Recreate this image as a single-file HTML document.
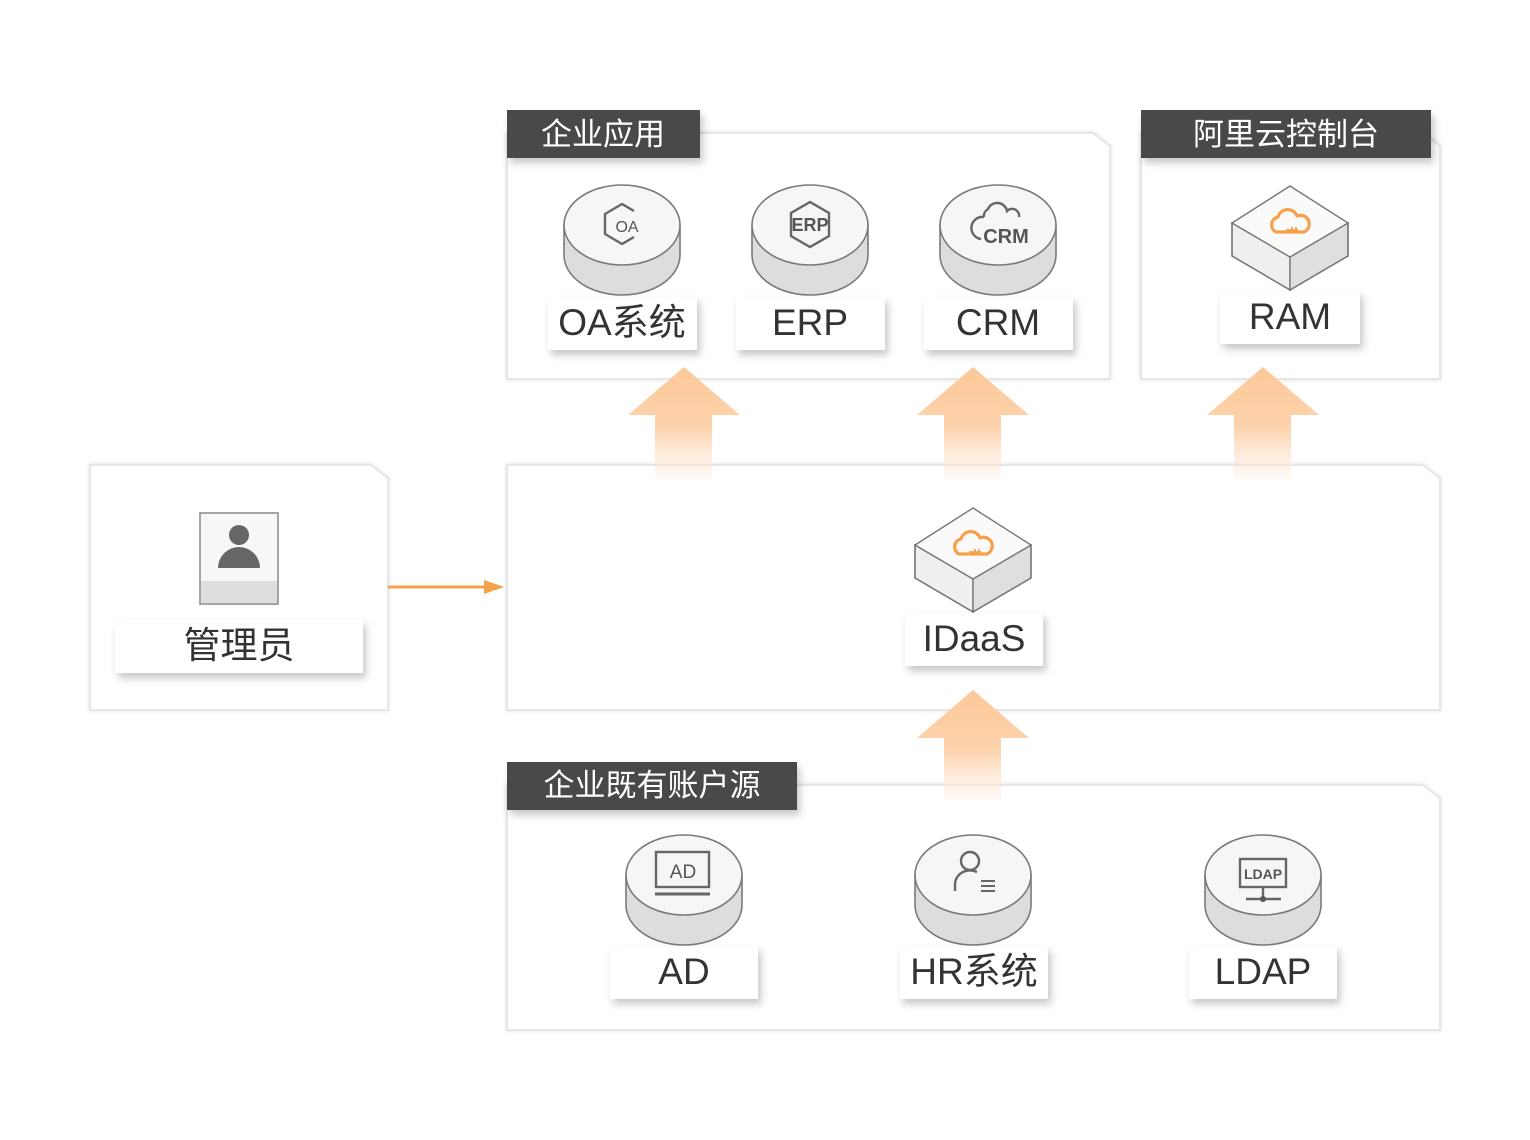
<!DOCTYPE html>
<html><head><meta charset="utf-8"><style>
html,body{margin:0;padding:0;background:#fff;}
svg{display:block;}
text{font-family:"Liberation Sans","Noto Sans CJK SC",sans-serif;}
</style></head><body>
<svg width="1530" height="1140" viewBox="0 0 1530 1140" xmlns="http://www.w3.org/2000/svg">
<defs>
<filter id="sh" x="-20%" y="-20%" width="140%" height="160%"><feDropShadow dx="3" dy="5" stdDeviation="4" flood-color="#000" flood-opacity="0.22"/></filter>
<filter id="bs" x="-5%" y="-5%" width="110%" height="110%"><feDropShadow dx="0" dy="0" stdDeviation="2" flood-color="#000" flood-opacity="0.12"/></filter>
<linearGradient id="ag" x1="0" y1="0" x2="0" y2="1"><stop offset="0" stop-color="#fdc898"/><stop offset="0.55" stop-color="#fdd3ad"/><stop offset="1" stop-color="#fdebdc" stop-opacity="0.3"/></linearGradient>
<g id="cloud"><path d="M-14,8 a8,8 0 0 1 2,-15 a10,10 0 0 1 19,-1 a8,8 0 0 1 7,16 z" fill="none" stroke="#f7a04a" stroke-width="3.2" stroke-linejoin="round"/><path d="M-4,6 h12 M2,3 v3 M6,3 v3" stroke="#f7a04a" stroke-width="1.8"/></g>
</defs>

<!-- containers -->
<g fill="#fff" stroke="#e6e6e6" stroke-width="2" filter="url(#bs)">
<path d="M507,133 H1093 L1110,146 V379 H507 Z"/>
<path d="M1141,133 H1423 L1440,146 V379 H1141 Z"/>
<path d="M90,465 H371 L388,478 V710 H90 Z"/>
<path d="M507,465 H1423 L1440,478 V710 H507 Z"/>
<path d="M507,785 H1423 L1440,798 V1030 H507 Z"/>
</g>

<!-- arrows -->
<g fill="url(#ag)">
<path d="M684,367 L740,415 H712 V478 H655 V415 H628 Z"/>
<path d="M973,367 L1029,415 H1001 V478 H944 V415 H917 Z"/>
<path d="M1263,367 L1319,415 H1291 V478 H1234 V415 H1207 Z"/>
<path d="M973,690 L1029,738 H1001 V800 H944 V738 H917 Z"/>
</g>

<!-- title bars -->
<g filter="url(#sh)" fill="#4a4a4a">
<rect x="507" y="110" width="193" height="48"/>
<rect x="1141" y="110" width="290" height="48"/>
<rect x="507" y="762" width="290" height="48"/>
</g>
<g fill="#fff" font-size="31" text-anchor="middle">
<text x="603" y="145">企业应用</text>
<text x="1286" y="145">阿里云控制台</text>
<text x="652" y="796">企业既有账户源</text>
</g>

<!-- cylinders -->
<g stroke="#7a7a7a" stroke-width="1.6">
<g transform="translate(622,185)"><path d="M-58,40 V70 A58,40 0 0 0 58,70 V40 Z" fill="#dcdddc"/><ellipse cx="0" cy="40" rx="58" ry="40" fill="#f6f6f6"/></g>
<g transform="translate(810,185)"><path d="M-58,40 V70 A58,40 0 0 0 58,70 V40 Z" fill="#dcdddc"/><ellipse cx="0" cy="40" rx="58" ry="40" fill="#f6f6f6"/></g>
<g transform="translate(998,185)"><path d="M-58,40 V70 A58,40 0 0 0 58,70 V40 Z" fill="#dcdddc"/><ellipse cx="0" cy="40" rx="58" ry="40" fill="#f6f6f6"/></g>
<g transform="translate(684,835)"><path d="M-58,40 V70 A58,40 0 0 0 58,70 V40 Z" fill="#dcdddc"/><ellipse cx="0" cy="40" rx="58" ry="40" fill="#f6f6f6"/></g>
<g transform="translate(973,835)"><path d="M-58,40 V70 A58,40 0 0 0 58,70 V40 Z" fill="#dcdddc"/><ellipse cx="0" cy="40" rx="58" ry="40" fill="#f6f6f6"/></g>
<g transform="translate(1263,835)"><path d="M-58,40 V70 A58,40 0 0 0 58,70 V40 Z" fill="#dcdddc"/><ellipse cx="0" cy="40" rx="58" ry="40" fill="#f6f6f6"/></g>
</g>

<!-- cylinder icons -->
<g fill="none" stroke="#666" stroke-width="2.4">
<path d="M634,211 L622,204 L605,214 V234 L622,244 L634,237"/>
<path d="M810,202 L829,213 V236 L810,247 L791,236 V213 Z"/>
<path d="M984,217 a8,8 0 0 1 4,-8 a10,10 0 0 1 19,2 a7,7 0 0 1 12,6" />
<path d="M984,217 a9,9 0 0 0 -3,22"/>
<rect x="656" y="852" width="53" height="35"/>
<path d="M655,894 H710" stroke-width="3"/>
<circle cx="970" cy="861" r="9"/>
<path d="M955,891 V884 a15,14 0 0 1 22,-12"/>
<path d="M981,881 H995 M981,886 H995 M981,891 H995" stroke-width="2"/>
<rect x="1240" y="859" width="46" height="28"/>
<path d="M1263,887 V899 M1246,899 H1281"/>
</g>
<g fill="#555" font-weight="bold" text-anchor="middle">
<text x="627" y="232" font-size="16" font-weight="normal">OA</text>
<text x="810" y="231" font-size="18">ERP</text>
<text x="1006" y="243" font-size="20">CRM</text>
<text x="683" y="878" font-size="19" font-weight="normal">AD</text>
<text x="1263" y="879" font-size="14">LDAP</text>
</g>
<circle cx="1263" cy="899" r="3" fill="#555"/>

<!-- cubes -->
<g stroke="#777" stroke-width="1.4">
<g transform="translate(1290,186)"><path d="M-58,37 L0,71 V104 L-58,70 Z" fill="#efefee"/><path d="M58,37 L0,71 V104 L58,70 Z" fill="#dedfde"/><path d="M0,0 L58,37 L0,71 L-58,37 Z" fill="#fafafa"/><path d="M-58,37 V70 L0,104 L58,70 V37" fill="none"/></g>
<g transform="translate(973,508)"><path d="M-58,37 L0,71 V104 L-58,70 Z" fill="#efefee"/><path d="M58,37 L0,71 V104 L58,70 Z" fill="#dedfde"/><path d="M0,0 L58,37 L0,71 L-58,37 Z" fill="#fafafa"/><path d="M-58,37 V70 L0,104 L58,70 V37" fill="none"/></g>
</g>
<use href="#cloud" x="1290" y="224"/>
<use href="#cloud" x="973" y="546"/>

<!-- admin icon -->
<rect x="200" y="513" width="78" height="91" fill="#f7f7f7" stroke="#888" stroke-width="1.5"/>
<rect x="201" y="581" width="76" height="22" fill="#dddedd"/>
<circle cx="239" cy="535" r="10" fill="#666"/>
<path d="M218,568 a21,21 0 0 1 42,0 Z" fill="#666"/>

<!-- connector -->
<path d="M388,587 H488" stroke="#f7a04a" stroke-width="3"/>
<path d="M484,580 L504,587 L484,594 Z" fill="#f7a04a"/>

<!-- labels -->
<g filter="url(#sh)" fill="#fff">
<rect x="548" y="297" width="149" height="53"/>
<rect x="736" y="297" width="149" height="53"/>
<rect x="924" y="297" width="149" height="53"/>
<rect x="1220" y="291" width="140" height="53"/>
<rect x="115" y="620" width="248" height="53"/>
<rect x="905" y="613" width="138" height="53"/>
<rect x="610" y="946" width="148" height="53"/>
<rect x="900" y="946" width="148" height="53"/>
<rect x="1189" y="946" width="148" height="53"/>
</g>
<g fill="#333" font-size="37" text-anchor="middle">
<text x="622" y="335">OA系统</text>
<text x="810" y="335">ERP</text>
<text x="998" y="335">CRM</text>
<text x="1290" y="329">RAM</text>
<text x="239" y="658">管理员</text>
<text x="974" y="651">IDaaS</text>
<text x="684" y="984">AD</text>
<text x="974" y="984">HR系统</text>
<text x="1263" y="984">LDAP</text>
</g>
</svg>
</body></html>
